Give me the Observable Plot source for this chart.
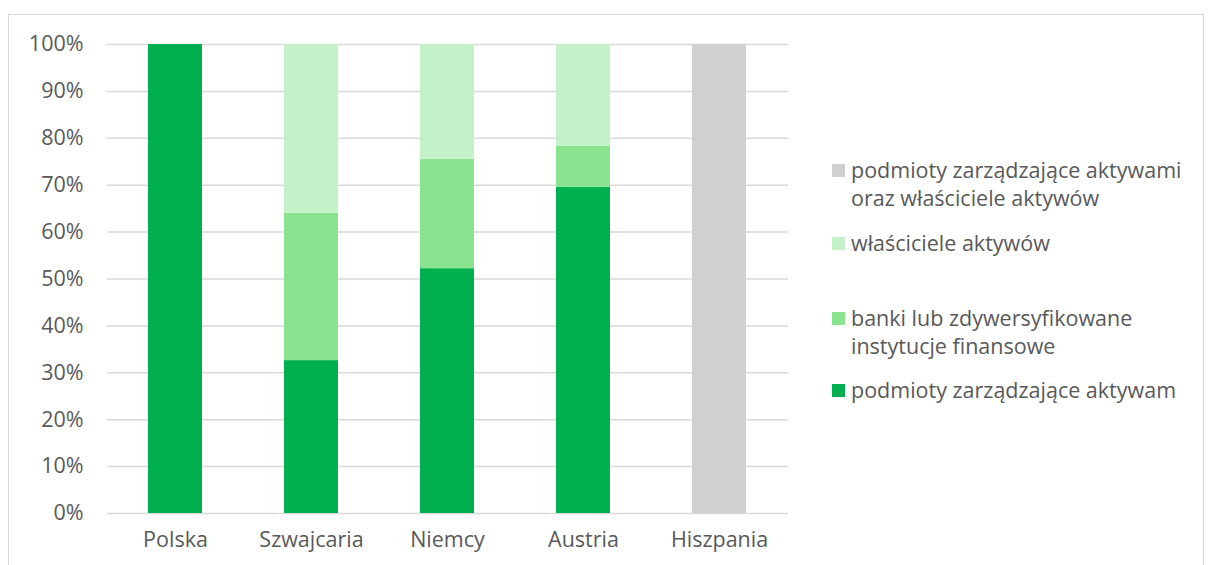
<!DOCTYPE html>
<html>
<head>
<meta charset="utf-8">
<script src="https://cdn.jsdelivr.net/npm/d3@7"></script>
<script src="https://cdn.jsdelivr.net/npm/@observablehq/plot@0.6"></script>
<style>
  body { margin: 0; background: #fff; font-family: "Open Sans", sans-serif; }
  #wrap { position: relative; width: 1208px; height: 565px; overflow: hidden; }
  #frame { position: absolute; left: 8px; top: 14px; width: 1196px; height: 560px; border: 1px solid #d9d9d9; box-sizing: border-box; }
  #chart { position: absolute; left: 0; top: 0; }
  #legend { position: absolute; left: 832px; top: 0; color: #595959; font-size: 21.5px; }
  .item { position: absolute; left: 0; white-space: nowrap; line-height: 28px; }
  .sw { position: absolute; left: 0; top: 8px; width: 13px; height: 13px; }
  .txt { position: absolute; left: 19px; top: 0; }
</style>
</head>
<body>
<div id="wrap">
  <div id="frame"></div>
  <div id="chart"></div>
  <div id="legend"></div>
</div>
<script>
const countries = ["Polska", "Szwajcaria", "Niemcy", "Austria", "Hiszpania"];
const seriesNames = [
  "podmioty zarządzające aktywam",
  "banki lub zdywersyfikowane instytucje finansowe",
  "właściciele aktywów",
  "podmioty zarządzające aktywami oraz właściciele aktywów"
];
const assetManagers = [100, 32.6, 52.2, 69.5, 0];
const banks = [0, 31.4, 23.3, 8.8, 0];
const owners = [0, 36.0, 24.5, 21.7, 0];
const managersAndOwners = [0, 0, 0, 0, 100];
const yTicks = [0, 10, 20, 30, 40, 50, 60, 70, 80, 90, 100];
const colors = ["#00B050", "#8AE38F", "#C3F1C8", "#D0D0D0"];

const seriesValues = [assetManagers, banks, owners, managersAndOwners];
const rows = [];
seriesValues.forEach((vals, si) => {
  countries.forEach((c, ci) => {
    rows.push({country: c, series: seriesNames[si], value: vals[ci]});
  });
});

const chart = Plot.plot({
  width: 800,
  height: 565,
  marginLeft: 107,
  marginRight: 12,
  marginTop: 44,
  marginBottom: 52,
  style: {fontFamily: "'Open Sans', sans-serif", fontSize: "21.5px", color: "#595959", background: "transparent"},
  x: {domain: countries, paddingInner: 0.6, paddingOuter: 0.3, label: null, tickSize: 0, tickPadding: 18},
  y: {domain: [0, 100], ticks: yTicks, tickFormat: d => d + "%", label: null, tickSize: 0, tickPadding: 24},
  color: {domain: seriesNames, range: colors},
  marks: [
    Plot.ruleY(yTicks, {stroke: "#d9d9d9", strokeWidth: 1.5}),
    Plot.barY(rows, {x: "country", y: "value", fill: "series", order: seriesNames})
  ]
});
document.getElementById("chart").appendChild(chart);

// Legend (top-to-bottom: reverse stack order)
const legend = document.getElementById("legend");
const legendItems = [
  {lines: ["podmioty zarządzające aktywami", "oraz właściciele aktywów"], color: colors[3], top: 156},
  {lines: ["właściciele aktywów"], color: colors[2], top: 229},
  {lines: ["banki lub zdywersyfikowane", "instytucje finansowe"], color: colors[1], top: 304},
  {lines: ["podmioty zarządzające aktywam"], color: colors[0], top: 376}
];
legendItems.forEach(it => {
  const d = document.createElement("div");
  d.className = "item";
  d.style.top = it.top + "px";
  const sw = document.createElement("div");
  sw.className = "sw";
  sw.style.background = it.color;
  const t = document.createElement("div");
  t.className = "txt";
  t.innerHTML = it.lines.join("<br>");
  d.appendChild(sw);
  d.appendChild(t);
  legend.appendChild(d);
});
</script>
</body>
</html>
